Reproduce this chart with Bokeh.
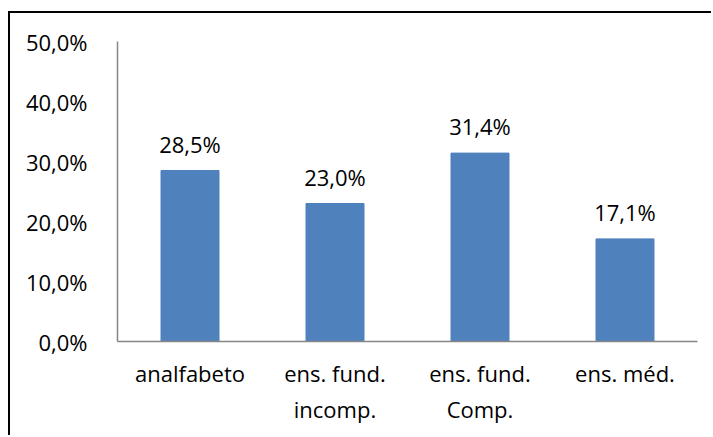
from bokeh.plotting import figure
from bokeh.models import ColumnDataSource, FixedTicker, Range1d, FactorRange
from bokeh.core.properties import value
from bokeh.embed import file_html
from bokeh.resources import INLINE

categories = ["analfabeto", "ens. fund.\nincomp.", "ens. fund.\nComp.", "ens. méd."]
values = [28.5, 23.0, 31.4, 17.1]
value_labels = ["28,5%", "23,0%", "31,4%", "17,1%"]
tick_values = [0, 10, 20, 30, 40, 50]
tick_labels = ["0,0%", "10,0%", "20,0%", "30,0%", "40,0%", "50,0%"]

FONT = "Open Sans"
source = ColumnDataSource(dict(x=categories, top=values, label=value_labels))

p = figure(width=703, height=424, x_range=FactorRange(*categories, range_padding=0),
           y_range=Range1d(0, 50), output_backend="svg", toolbar_location=None,
           min_border_left=107, min_border_right=16, min_border_top=28, min_border_bottom=96)
p.styles = {"border-left": "2px solid black", "border-top": "2px solid black",
            "margin-top": "11px", "margin-left": "8px"}

p.vbar(x="x", top="top", width=0.4, source=source, color="#4F81BD")
p.text(x="x", y="top", text="label", source=source, text_align="center",
       text_baseline="bottom", y_offset=-12, text_font=value(FONT),
       text_font_size="22px", text_color="black")

p.xgrid.visible = False
p.ygrid.visible = False
p.outline_line_color = None

p.yaxis.ticker = FixedTicker(ticks=tick_values)
p.yaxis.major_label_overrides = {v: l for v, l in zip(tick_values, tick_labels)}
for ax in (p.xaxis[0], p.yaxis[0]):
    ax.axis_line_color = "#868686"
    ax.axis_line_width = 1.5
    ax.major_tick_line_color = None
    ax.minor_tick_line_color = None
    ax.major_label_text_font = FONT
    ax.major_label_text_font_size = "22px"
    ax.major_label_text_color = "black"
p.yaxis.major_label_standoff = 24
p.xaxis.major_label_standoff = 10

open("out.html", "w").write(file_html(p, INLINE))
